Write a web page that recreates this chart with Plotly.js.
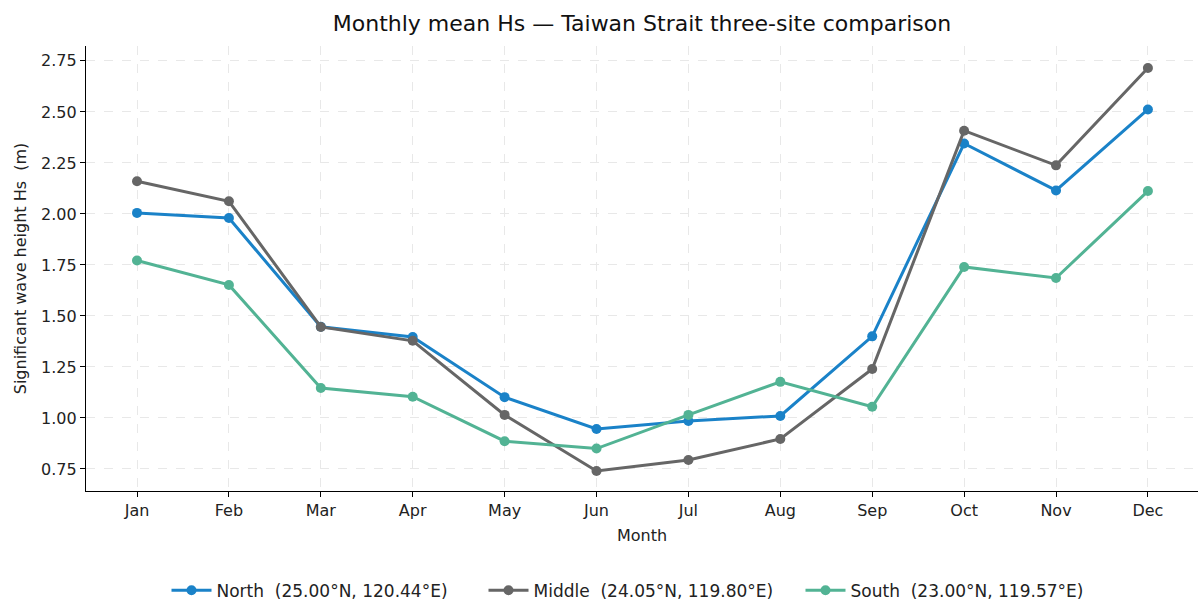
<!DOCTYPE html>
<html>
<head>
<meta charset="utf-8">
<script src="https://cdn.plot.ly/plotly-3.0.1.min.js"></script>
<style>html,body{margin:0;padding:0;background:#fff;}#chart{width:1200px;height:601px;}</style>
</head>
<body>
<div id="chart"></div>
<script>
const months = ["Jan","Feb","Mar","Apr","May","Jun","Jul","Aug","Sep","Oct","Nov","Dec"];
const northHs = [2.005, 1.980, 1.447, 1.397, 1.102, 0.946, 0.985, 1.010, 1.400, 2.345, 2.115, 2.512];
const middleHs = [2.160, 2.062, 1.446, 1.378, 1.015, 0.740, 0.794, 0.897, 1.240, 2.408, 2.238, 2.715];
const southHs = [1.772, 1.652, 1.147, 1.104, 0.886, 0.850, 1.015, 1.177, 1.055, 1.740, 1.686, 2.112];
const seriesNames = ["North  (25.00°N, 120.44°E)", "Middle  (24.05°N, 119.80°E)", "South  (23.00°N, 119.57°E)"];
const seriesColors = ["#1a82c8", "#666666", "#52b394"];
const seriesValues = [northHs, middleHs, southHs];
const yTicks = [0.75, 1.00, 1.25, 1.50, 1.75, 2.00, 2.25, 2.50, 2.75];

const xIdx = months.map((m, i) => i);
const traces = seriesValues.map((vals, k) => ({
  x: xIdx, y: vals, type: "scatter", mode: "lines+markers",
  name: seriesNames[k],
  line: {color: seriesColors[k], width: 3},
  marker: {color: seriesColors[k], size: 10}
}));

const font = "DejaVu Sans, sans-serif";
const layout = {
  width: 1200, height: 601,
  paper_bgcolor: "#fff", plot_bgcolor: "#fff",
  margin: {l: 86, r: 2, t: 46, b: 110, autoexpand: false},
  font: {family: font, size: 17, color: "#222"},
  title: {text: "Monthly mean Hs — Taiwan Strait three-site comparison", x: 0.5, xanchor: "center", xref: "paper", y: 22, yref: "container", yanchor: "middle", font: {family: font, size: 22, color: "#111"}},
  xaxis: {
    range: [-0.555, 11.545], tickmode: "array", tickvals: xIdx, ticktext: months,
    showline: true, linecolor: "#000", linewidth: 1.2, mirror: false,
    ticks: "outside", ticklen: 5, tickwidth: 1, tickcolor: "#000",
    showgrid: true, gridcolor: "#e8e8e8", griddash: "dash", gridwidth: 1,
    zeroline: false, tickfont: {size: 16, color: "#222"}, automargin: false,
    title: {text: "Month", font: {size: 16, color: "#222"}, standoff: 10}
  },
  yaxis: {
    range: [0.642, 2.823], tickmode: "array", tickvals: yTicks, ticktext: yTicks.map(v => v.toFixed(2)),
    showline: true, linecolor: "#000", linewidth: 1.2,
    ticks: "outside", ticklen: 5, tickwidth: 1, tickcolor: "#000",
    showgrid: true, gridcolor: "#e8e8e8", griddash: "dash", gridwidth: 1,
    zeroline: false, tickfont: {size: 16, color: "#222"}, automargin: false,
    title: {text: "Significant wave height Hs  (m)", font: {size: 16, color: "#222"}, standoff: 10}
  },
  showlegend: true,
  legend: {orientation: "h", x: 0.5, xanchor: "center", xref: "paper", y: -0.224, yref: "paper", yanchor: "middle", font: {size: 17, color: "#222"}, itemwidth: 40, entrywidth: 262, entrywidthmode: "pixels", traceorder: "normal"}
};
Plotly.newPlot("chart", traces, layout, {displayModeBar: false, staticPlot: true});
</script>
</body>
</html>
